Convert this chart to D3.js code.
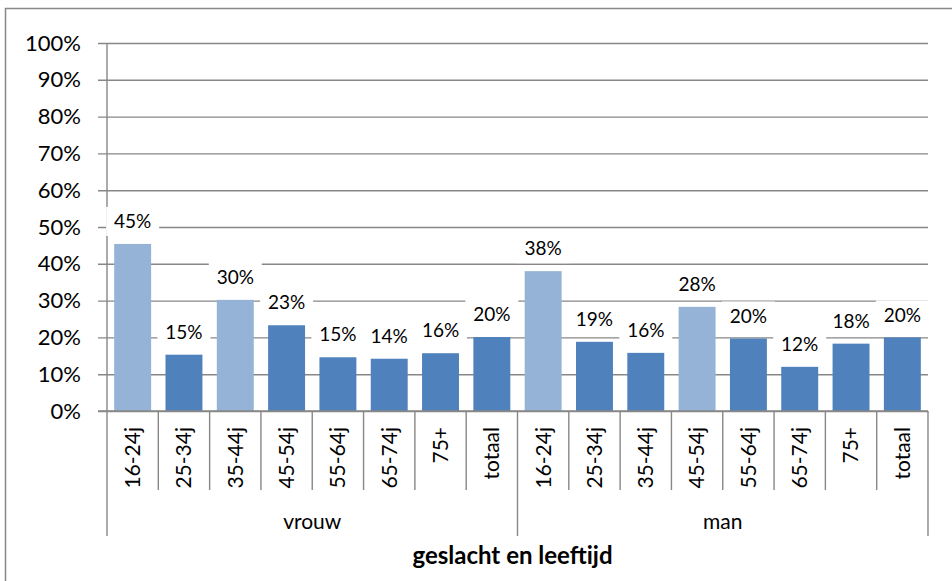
<!DOCTYPE html>
<html>
<head>
	<meta charset="utf-8" />
	<title>geslacht en leeftijd</title>
	<script type="text/javascript" src="https://d3js.org/d3.v7.min.js" charset="utf-8"></script>
	<style>
		body { margin: 0; background: #fff; }
		svg text { font-family: Lato, "Open Sans", sans-serif; fill: #000; }
	</style>
</head>
<body>

<div id="chart"><svg></svg></div>

<script type="text/javascript">
/* data */
var groups = ["vrouw", "man"];
var ages = ["16-24j", "25-34j", "35-44j", "45-54j", "55-64j", "65-74j", "75+", "totaal"];
var vrouwValues = [0.454, 0.153, 0.302, 0.233, 0.146, 0.142, 0.157, 0.201];
var manValues   = [0.380, 0.188, 0.158, 0.283, 0.197, 0.120, 0.183, 0.200];
// bars drawn in the lighter blue
var vrouwLight = ["16-24j", "35-44j"];
var manLight   = ["16-24j", "45-54j"];
var yTicks = [0, 0.1, 0.2, 0.3, 0.4, 0.5, 0.6, 0.7, 0.8, 0.9, 1];

var rows = [];
groups.forEach(function(g) {
	var vals  = g == "vrouw" ? vrouwValues : manValues;
	var light = g == "vrouw" ? vrouwLight  : manLight;
	ages.forEach(function(a, i) {
		rows.push({ group: g, age: a, key: g + "|" + a, value: vals[i], light: light.indexOf(a) >= 0 });
	});
});

var width = 952, height = 581;
var plot = { left: 107, right: 928, top: 43, bottom: 411 };
var gridColor = "#878787";

var svg = d3.select("#chart > svg")
	.attr("width", width)
	.attr("height", height);

// outer frame (runs off the right/bottom edge)
svg.append("rect")
	.attr("x", 5.5).attr("y", 8.5)
	.attr("width", width).attr("height", height)
	.attr("fill", "none")
	.attr("stroke", gridColor)
	.attr("stroke-width", 1.5);

var x = d3.scaleBand()
	.domain(rows.map(function(d) { return d.key; }))
	.range([plot.left, plot.right])
	.paddingInner(0.28)
	.paddingOuter(0.14);

var y = d3.scaleLinear()
	.domain([0, 1])
	.range([plot.bottom, plot.top]);

/* gridlines + y axis */
var yAxis = d3.axisLeft(y)
	.tickValues(yTicks)
	.tickFormat(d3.format(".0%"))
	.tickSize(-(plot.right - plot.left))
	.tickPadding(26);

var gy = svg.append("g")
	.attr("transform", "translate(" + plot.left + ",0)")
	.call(yAxis);
gy.select(".domain").remove();
gy.selectAll(".tick line")
	.attr("x1", -9)
	.attr("stroke", gridColor)
	.attr("stroke-width", 1.4);
gy.selectAll(".tick text")
	.attr("font-size", 22)
	.attr("font-family", "Lato, sans-serif")
	.attr("fill", "#000");

svg.append("line")
	.attr("x1", plot.left).attr("x2", plot.left)
	.attr("y1", plot.top).attr("y2", plot.bottom)
	.attr("stroke", gridColor).attr("stroke-width", 1.4);

/* bars */
svg.append("g").selectAll("rect")
	.data(rows)
	.enter().append("rect")
		.attr("x", function(d) { return x(d.key); })
		.attr("y", function(d) { return y(d.value); })
		.attr("width", x.bandwidth())
		.attr("height", function(d) { return y(0) - y(d.value); })
		.attr("fill", function(d) { return d.light ? "#95b3d7" : "#4f81bd"; });

/* data labels with white boxes */
var fmt = d3.format(".0%");
var lab = svg.append("g").selectAll("g")
	.data(rows)
	.enter().append("g")
		.attr("transform", function(d) {
			return "translate(" + (x(d.key) + x.bandwidth() / 2) + "," + (y(d.value) - 22.5) + ")";
		});
lab.append("rect")
	.attr("x", -26.5).attr("y", -14.5)
	.attr("width", 53).attr("height", 29)
	.attr("fill", "#fff");
lab.append("text")
	.attr("text-anchor", "middle")
	.attr("dy", "0.35em")
	.attr("font-size", 19)
	.text(function(d) { return fmt(d.value); });

/* category axis */
var step = x.step();
svg.append("line")
	.attr("x1", plot.left - 9).attr("x2", plot.right)
	.attr("y1", plot.bottom).attr("y2", plot.bottom)
	.attr("stroke", gridColor).attr("stroke-width", 1.4);

// separators between age categories
svg.append("g").selectAll("line")
	.data(rows)
	.enter().append("line")
		.attr("x1", function(d) { return x(d.key) - step * x.paddingInner() / 2; })
		.attr("x2", function(d) { return x(d.key) - step * x.paddingInner() / 2; })
		.attr("y1", plot.bottom)
		.attr("y2", function(d, i) { return i % ages.length == 0 ? 536 : 490; })
		.attr("stroke", gridColor).attr("stroke-width", 1.4);
svg.append("line")
	.attr("x1", plot.right).attr("x2", plot.right)
	.attr("y1", plot.bottom).attr("y2", 536)
	.attr("stroke", gridColor).attr("stroke-width", 1.4);

// rotated age labels
svg.append("g").selectAll("text")
	.data(rows)
	.enter().append("text")
		.attr("transform", function(d) {
			return "translate(" + (x(d.key) + x.bandwidth() / 2) + ",427) rotate(-90)";
		})
		.attr("text-anchor", "end")
		.attr("dy", "0.35em")
		.attr("font-size", 21)
		.text(function(d) { return d.age; });

// group labels
svg.append("g").selectAll("text")
	.data(groups)
	.enter().append("text")
		.attr("x", function(g) {
			var first = x(g + "|" + ages[0]) - step * x.paddingInner() / 2;
			return first + step * ages.length / 2;
		})
		.attr("y", 522)
		.attr("dy", "0.35em")
		.attr("text-anchor", "middle")
		.attr("font-size", 21)
		.text(function(g) { return g; });

// axis title
svg.append("text")
	.attr("x", 512.5)
	.attr("y", 556)
	.attr("dy", "0.35em")
	.attr("text-anchor", "middle")
	.attr("font-size", 24)
	.attr("font-weight", "bold")
	.text("geslacht en leeftijd");
</script>
</body>
</html>
